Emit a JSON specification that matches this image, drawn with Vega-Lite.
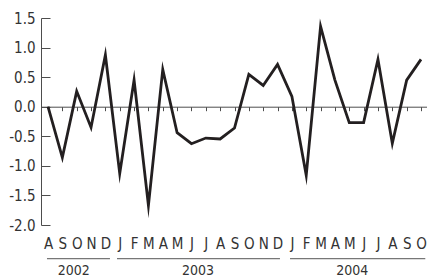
{
  "$schema": "https://vega.github.io/schema/vega-lite/v6.json",
  "width": 386,
  "height": 207,
  "autosize": "none",
  "padding": {"left": 41, "top": 18, "right": 0, "bottom": 53},
  "config": {"view": {"stroke": null}, "font": "DejaVu Sans Condensed, Liberation Sans, sans-serif"},
  "datasets": {
    "series": [
      {"t": 0, "month": "2002-08", "value": 0.0},
      {"t": 1, "month": "2002-09", "value": -0.86},
      {"t": 2, "month": "2002-10", "value": 0.26},
      {"t": 3, "month": "2002-11", "value": -0.35},
      {"t": 4, "month": "2002-12", "value": 0.875},
      {"t": 5, "month": "2003-01", "value": -1.13},
      {"t": 6, "month": "2003-02", "value": 0.45},
      {"t": 7, "month": "2003-03", "value": -1.67},
      {"t": 8, "month": "2003-04", "value": 0.63},
      {"t": 9, "month": "2003-05", "value": -0.44},
      {"t": 10, "month": "2003-06", "value": -0.625},
      {"t": 11, "month": "2003-07", "value": -0.53},
      {"t": 12, "month": "2003-08", "value": -0.545},
      {"t": 13, "month": "2003-09", "value": -0.36},
      {"t": 14, "month": "2003-10", "value": 0.545},
      {"t": 15, "month": "2003-11", "value": 0.36},
      {"t": 16, "month": "2003-12", "value": 0.716},
      {"t": 17, "month": "2004-01", "value": 0.176},
      {"t": 18, "month": "2004-02", "value": -1.16},
      {"t": 19, "month": "2004-03", "value": 1.36},
      {"t": 20, "month": "2004-04", "value": 0.45},
      {"t": 21, "month": "2004-05", "value": -0.27},
      {"t": 22, "month": "2004-06", "value": -0.27},
      {"t": 23, "month": "2004-07", "value": 0.8},
      {"t": 24, "month": "2004-08", "value": -0.62},
      {"t": 25, "month": "2004-09", "value": 0.45},
      {"t": 26, "month": "2004-10", "value": 0.8}
    ],
    "years": [
      {"year": "2002", "start": -0.07, "end": 4.32, "mid": 1.8, "y": -2.57, "ylab": -2.78},
      {"year": "2003", "start": 4.81, "end": 16.17, "mid": 10.46, "y": -2.57, "ylab": -2.78},
      {"year": "2004", "start": 16.87, "end": 26.3, "mid": 21.2, "y": -2.57, "ylab": -2.78}
    ]
  },
  "resolve": {"axis": {"x": "independent", "y": "independent"}},
  "layer": [
    {
      "data": {"name": "series"},
      "mark": {"type": "line", "color": "#231f20", "strokeWidth": 2.8, "strokeJoin": "miter", "strokeMiterLimit": 10},
      "encoding": {
        "x": {
          "field": "t", "type": "quantitative",
          "scale": {"domain": [-0.488, 26.418], "nice": false, "zero": false},
          "axis": {
            "orient": "bottom", "offset": -118.3, "title": null, "labels": false,
            "values": [0,1,2,3,4,5,6,7,8,9,10,11,12,13,14,15,16,17,18,19,20,21,22,23,24,25,26],
            "ticks": true, "tickSize": 4, "tickColor": "#4d4d4d", "tickWidth": 1,
            "domain": true, "domainColor": "#4d4d4d", "domainWidth": 1, "grid": false
          }
        },
        "y": {
          "field": "value", "type": "quantitative",
          "scale": {"domain": [-2, 1.5], "nice": false, "zero": false},
          "axis": {
            "title": null, "grid": false,
            "values": [-2, -1.5, -1, -0.5, 0, 0.5, 1, 1.5],
            "labelExpr": "replace(format(datum.value, '.1f'), '\u2212', '-')",
            "labelFontSize": 15, "labelColor": "#333333",
            "labelPadding": 15,
            "ticks": true, "tickSize": -9, "tickColor": "#4d4d4d", "tickWidth": 1,
            "domain": true, "domainColor": "#4d4d4d", "domainWidth": 1
          }
        }
      }
    },
    {
      "data": {"name": "years"},
      "mark": {"type": "rule", "color": "#555555", "strokeWidth": 1},
      "encoding": {
        "x": {
          "field": "start", "type": "quantitative",
          "scale": {"domain": [-0.488, 26.418], "nice": false, "zero": false},
          "axis": {
            "orient": "bottom", "title": null,
            "values": [0,1,2,3,4,5,6,7,8,9,10,11,12,13,14,15,16,17,18,19,20,21,22,23,24,25,26],
            "labelExpr": "['J','F','M','A','M','J','J','A','S','O','N','D'][(datum.value + 7) % 12]",
            "labelFontSize": 15, "labelColor": "#333333",
            "labelPadding": 11, "labelFlush": false, "labelOverlap": false,
            "ticks": false, "domain": false, "grid": false
          }
        },
        "x2": {"field": "end"},
        "y": {"field": "y", "type": "quantitative", "axis": null}
      }
    },
    {
      "data": {"name": "years"},
      "mark": {"type": "text", "fontSize": 14, "color": "#333333", "baseline": "middle", "align": "center"},
      "encoding": {
        "x": {"field": "mid", "type": "quantitative", "axis": null},
        "y": {"field": "ylab", "type": "quantitative", "axis": null},
        "text": {"field": "year"}
      }
    }
  ]
}
